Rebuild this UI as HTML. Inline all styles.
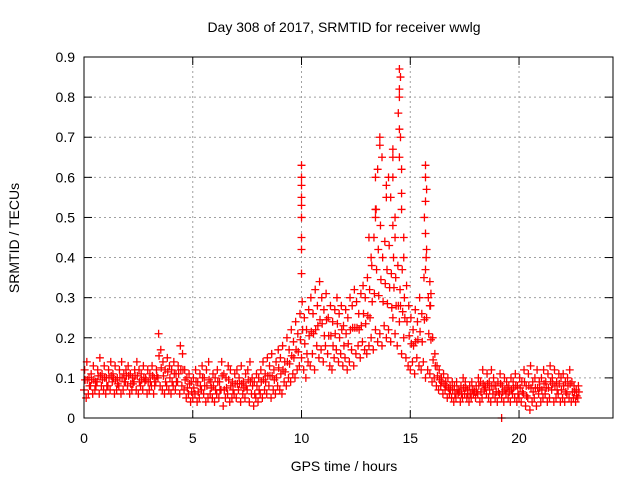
<!DOCTYPE html>
<html><head><meta charset="utf-8"><style>
body{margin:0;background:#fff}
svg text{font-family:"Liberation Sans",sans-serif;font-size:14px;fill:#000}
</style></head><body>
<svg id="chart" width="640" height="480" xmlns="http://www.w3.org/2000/svg">
<rect width="640" height="480" fill="#fff"/>
<text x="344" y="32" text-anchor="middle">Day 308 of 2017, SRMTID for receiver wwlg</text>
<text x="344" y="471" text-anchor="middle">GPS time / hours</text>
<text x="19" y="238" text-anchor="middle" transform="rotate(-90 19 238)">SRMTID / TECUs</text>
<g id="grid"></g><g id="ticks"></g><g id="marks"></g>
<rect x="84" y="57" width="529" height="361" fill="none" stroke="#000"/>
</svg>
<script>
const xTicks=[0,5,10,15,20];
const yTicks=[0,0.1,0.2,0.3,0.4,0.5,0.6,0.7,0.8,0.9];
const yTickLabels=["0","0.1","0.2","0.3","0.4","0.5","0.6","0.7","0.8","0.9"];
const tStep=0.1;
const seriesLow=[0.07,0.05,0.06,0.08,0.06,0.07,0.09,0.06,0.08,0.07,
0.06,0.08,0.07,0.09,0.06,0.07,0.08,0.06,0.07,0.09,
0.08,0.06,0.07,0.09,0.07,0.06,0.08,0.07,0.09,0.06,
0.07,0.08,0.06,0.09,0.10,0.08,0.07,0.06,0.08,0.07,
0.06,0.08,0.07,0.09,0.06,0.08,0.07,0.05,0.06,0.04,
0.05,0.06,0.04,0.05,0.07,0.06,0.04,0.05,0.06,0.05,
0.04,0.06,0.05,0.07,0.03,0.05,0.06,0.04,0.05,0.06,
0.05,0.07,0.04,0.06,0.05,0.07,0.04,0.06,0.03,0.05,
0.04,0.06,0.05,0.07,0.06,0.08,0.05,0.07,0.06,0.08,
0.07,0.06,0.09,0.08,0.10,0.09,0.11,0.10,0.12,0.13,
0.15,0.12,0.10,0.14,0.13,0.16,0.12,0.18,0.15,0.17,
0.14,0.18,0.16,0.13,0.12,0.15,0.17,0.14,0.16,0.13,
0.15,0.12,0.14,0.17,0.13,0.16,0.18,0.15,0.19,0.17,
0.16,0.18,0.20,0.17,0.22,0.19,0.21,0.18,0.23,0.20,
0.22,0.19,0.25,0.21,0.18,0.24,0.16,0.20,0.15,0.13,
0.12,0.14,0.11,0.15,0.13,0.12,0.14,0.10,0.12,0.11,
0.09,0.10,0.08,0.07,0.08,0.06,0.07,0.05,0.06,0.05,
0.04,0.05,0.06,0.04,0.05,0.06,0.05,0.04,0.05,0.06,
0.05,0.06,0.04,0.05,0.07,0.06,0.05,0.04,0.06,0.05,
0.04,0.06,0.05,0.04,0.06,0.05,0.04,0.06,0.05,0.04,
0.05,0.04,0.06,0.03,0.05,0.02,0.04,0.05,0.03,0.06,
0.04,0.05,0.06,0.04,0.05,0.07,0.04,0.05,0.06,0.04,
0.05,0.04,0.06,0.05,0.04,0.05,0.04,0.05];
const seriesHigh=[0.12,0.14,0.10,0.11,0.13,0.09,0.12,0.15,0.11,0.13,
0.10,0.12,0.14,0.11,0.13,0.10,0.12,0.14,0.11,0.12,
0.13,0.11,0.10,0.12,0.14,0.12,0.11,0.13,0.10,0.12,
0.11,0.13,0.10,0.12,0.21,0.17,0.14,0.12,0.15,0.13,
0.12,0.14,0.11,0.13,0.18,0.16,0.12,0.10,0.11,0.09,
0.10,0.12,0.09,0.11,0.13,0.10,0.12,0.14,0.09,0.11,
0.10,0.12,0.09,0.14,0.11,0.10,0.13,0.12,0.09,0.11,
0.12,0.10,0.13,0.09,0.11,0.12,0.14,0.10,0.09,0.11,
0.10,0.12,0.14,0.11,0.15,0.13,0.16,0.12,0.14,0.17,
0.15,0.18,0.14,0.20,0.17,0.22,0.19,0.24,0.21,0.26,
0.29,0.25,0.22,0.27,0.30,0.26,0.32,0.28,0.34,0.30,
0.27,0.31,0.25,0.28,0.24,0.27,0.30,0.26,0.28,0.23,
0.27,0.25,0.30,0.28,0.32,0.29,0.26,0.31,0.33,0.30,
0.35,0.32,0.38,0.45,0.52,0.42,0.48,0.40,0.44,0.37,
0.43,0.36,0.40,0.35,0.38,0.32,0.37,0.30,0.33,0.28,
0.25,0.22,0.27,0.24,0.30,0.26,0.35,0.40,0.30,0.28,
0.20,0.16,0.13,0.12,0.10,0.11,0.09,0.10,0.08,0.09,
0.08,0.09,0.07,0.08,0.10,0.09,0.07,0.08,0.09,0.07,
0.08,0.10,0.09,0.12,0.08,0.11,0.09,0.12,0.10,0.08,
0.09,0.11,0.08,0.10,0.09,0.08,0.10,0.09,0.11,0.08,
0.10,0.09,0.12,0.08,0.11,0.13,0.09,0.10,0.12,0.09,
0.10,0.12,0.09,0.11,0.13,0.10,0.12,0.09,0.11,0.10,
0.11,0.09,0.10,0.12,0.09,0.08,0.07,0.08];
const spikeTimes=[10,10,10,10,10,10,10,10,10,13.1,13.2,13.4,13.4,13.4,13.5,13.6,13.6,13.7,13.9,13.9,14.0,14.2,14.2,14.2,14.1,14.3,14.2,14.3,14.5,14.55,14.5,14.5,14.45,14.5,14.55,14.5,14.6,14.6,14.6,14.7,14.7,15.7,15.7,15.75,15.7,15.65,15.7,15.75,15.7,15.9,15.95,15.9,19.2];
const spikeValues=[0.63,0.60,0.58,0.55,0.53,0.50,0.45,0.42,0.36,0.45,0.40,0.52,0.50,0.60,0.62,0.70,0.68,0.65,0.58,0.55,0.60,0.67,0.65,0.60,0.55,0.50,0.48,0.45,0.87,0.85,0.82,0.80,0.76,0.72,0.70,0.65,0.56,0.62,0.52,0.45,0.40,0.63,0.60,0.57,0.54,0.50,0.46,0.42,0.37,0.34,0.31,0.28,0.0];
const X0=84,X1=613,Y0=418,Y1=57,XMAX=24.32,YMAX=0.9;
function xs(t){return X0+(X1-X0)*t/XMAX}
function ys(v){return Y0-(Y0-Y1)*v/YMAX}
const NS="http://www.w3.org/2000/svg";
function mk(tag,attrs,parent){const e=document.createElementNS(NS,tag);for(const k in attrs)e.setAttribute(k,attrs[k]);parent.appendChild(e);return e}
const grid=document.getElementById('grid'),ticks=document.getElementById('ticks'),marks=document.getElementById('marks');
yTicks.forEach((v,i)=>{const y=ys(v);
 if(i>0&&i<yTicks.length-1){const g=mk('line',{x1:X0,x2:X1,y1:y,y2:y,stroke:'#a0a0a0','stroke-dasharray':'2,3'},grid);
 
 }
 mk('line',{x1:X0,x2:X0+8,y1:y,y2:y,stroke:'#000'},ticks);
 mk('line',{x1:X1,x2:X1-8,y1:y,y2:y,stroke:'#000'},ticks);
 const t=mk('text',{x:X0-9,y:y+5,'text-anchor':'end'},ticks);t.textContent=yTickLabels[i];
 
 
});
xTicks.forEach(v=>{const x=xs(v);
 if(v>0){const g=mk('line',{x1:x,x2:x,y1:Y0,y2:Y1,stroke:'#a0a0a0','stroke-dasharray':'2,3'},grid);
 
 }
 mk('line',{x1:x,x2:x,y1:Y0,y2:Y0-8,stroke:'#000'},ticks);
 mk('line',{x1:x,x2:x,y1:Y1,y2:Y1+8,stroke:'#000'},ticks);
 const t=mk('text',{x:x,y:Y0+25,'text-anchor':'middle'},ticks);t.textContent=String(v);
 
 
});
function plus(t,v){const x=xs(t),y=ys(v);
 const p=mk('path',{d:`M${x-4},${y}h8M${x},${y-4}v8`,stroke:'#f00','stroke-width':1.3,fill:'none'},marks);
 
 }
seriesLow.forEach((v,i)=>{plus(i*tStep,v);plus(i*tStep+0.05,(v+seriesHigh[i])/2);});
seriesHigh.forEach((v,i)=>plus(i*tStep+0.03,v));
spikeValues.forEach((v,i)=>plus(spikeTimes[i],v));
</script>
</body></html>
